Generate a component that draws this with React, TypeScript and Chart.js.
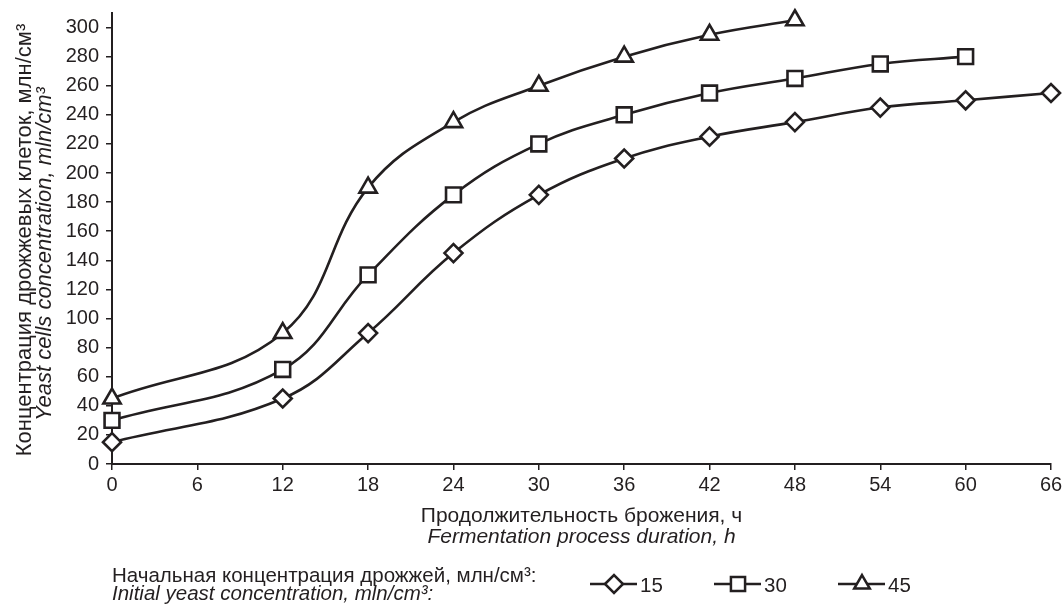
import React, { useEffect, useRef } from "react";
import { Chart, registerables } from "chart.js";

Chart.register(...registerables);

const HOURS = [0, 12, 18, 24, 30, 36, 42, 48, 54, 60, 66];
const SERIES_15 = [15, 45, 90, 145, 185, 210, 225, 235, 245, 250, 255];
const SERIES_30 = [30, 65, 130, 185, 220, 240, 255, 265, 275, 280];
const SERIES_45 = [45, 90, 190, 235, 260, 280, 295, 305];
const SERIES_LABELS = ["15", "30", "45"];
const POINT_STYLES = ["rectRot", "rect", "triangle"];
const X_TICKS = [0, 6, 12, 18, 24, 30, 36, 42, 48, 54, 60, 66];
const Y_TICKS = [0, 20, 40, 60, 80, 100, 120, 140, 160, 180, 200, 220, 240, 260, 280, 300];

const Y_TITLE_RU = "Концентрация дрожжевых клеток, млн/см³";
const Y_TITLE_EN = "Yeast cells concentration, mln/cm³";
const X_TITLE_RU = "Продолжительность брожения, ч";
const X_TITLE_EN = "Fermentation process duration, h";
const LEGEND_RU = "Начальная концентрация дрожжей, млн/см³:";
const LEGEND_EN = "Initial yeast concentration, mln/cm³:";

const INK = "#231f20";
const FONT = '"Liberation Sans", Arial, sans-serif';

function pts(values: number[]) {
  return values.map((v, i) => ({ x: HOURS[i], y: v }));
}

function drawMarker(ctx: CanvasRenderingContext2D, style: string, x: number, y: number, r: number) {
  ctx.beginPath();
  if (style === "rectRot") {
    ctx.moveTo(x - r, y);
    ctx.lineTo(x, y - r);
    ctx.lineTo(x + r, y);
    ctx.lineTo(x, y + r);
    ctx.closePath();
  } else if (style === "rect") {
    const s = Math.SQRT1_2 * r;
    ctx.rect(x - s, y - s, 2 * s, 2 * s);
  } else {
    const h = r;
    ctx.moveTo(x, y - h);
    ctx.lineTo(x + Math.sin(Math.PI * 2 / 3) * h, y - Math.cos(Math.PI * 2 / 3) * h);
    ctx.lineTo(x + Math.sin(Math.PI * 4 / 3) * h, y - Math.cos(Math.PI * 4 / 3) * h);
    ctx.closePath();
  }
  ctx.fillStyle = "#ffffff";
  ctx.fill();
  ctx.stroke();
}

const textPlugin = {
  id: "customText",
  afterDraw(chart: any) {
    const ctx: CanvasRenderingContext2D = chart.ctx;
    const area = chart.chartArea;
    const midX = (area.left + area.right) / 2;
    ctx.save();
    ctx.fillStyle = INK;
    ctx.textBaseline = "alphabetic";

    // Y axis title
    ctx.save();
    ctx.translate(31, 240);
    ctx.rotate(-Math.PI / 2);
    ctx.textAlign = "center";
    ctx.font = `22px ${FONT}`;
    ctx.fillText(Y_TITLE_RU, 0, 0);
    ctx.font = `italic 22px ${FONT}`;
    ctx.fillText(Y_TITLE_EN, -14, 20);
    ctx.restore();

    // X axis title
    ctx.textAlign = "center";
    ctx.font = `21px ${FONT}`;
    ctx.fillText(X_TITLE_RU, midX, 522);
    ctx.font = `italic 21px ${FONT}`;
    ctx.fillText(X_TITLE_EN, midX, 543);

    // Legend caption
    ctx.textAlign = "left";
    ctx.font = `20.5px ${FONT}`;
    ctx.fillText(LEGEND_RU, 112, 582);
    ctx.font = `italic 20.5px ${FONT}`;
    ctx.fillText(LEGEND_EN, 112, 600);

    // Legend items
    ctx.strokeStyle = INK;
    ctx.lineWidth = 2.5;
    SERIES_LABELS.forEach((label, i) => {
      const cx = 614 + i * 124;
      const cy = 584;
      ctx.beginPath();
      ctx.moveTo(cx - 24, cy);
      ctx.lineTo(cx + 23, cy);
      ctx.stroke();
      drawMarker(ctx, POINT_STYLES[i], cx, cy, POINT_STYLES[i] === "rect" ? 10 : 9);
      ctx.fillStyle = INK;
      ctx.font = `20.5px ${FONT}`;
      ctx.textAlign = "left";
      ctx.fillText(label, cx + 26, 592);
    });
    ctx.restore();
  },
};

export default function App() {
  const canvasRef = useRef<HTMLCanvasElement | null>(null);

  useEffect(() => {
    document.body.style.margin = "0";
    const canvas = canvasRef.current;
    if (!canvas) return;
    const mk = (label: string, data: number[], style: string, radius: number) => ({
      label,
      data: pts(data),
      borderColor: INK,
      backgroundColor: "#ffffff",
      borderWidth: 2.6,
      tension: 0.4,
      pointStyle: style,
      pointRadius: radius,
      pointBorderWidth: 2.6,
      pointBorderColor: INK,
      pointBackgroundColor: "#ffffff",
      clip: false,
    });
    const chart = new Chart(canvas, {
      type: "line",
      data: {
        datasets: [
          mk(SERIES_LABELS[0], SERIES_15, POINT_STYLES[0], 9),
          mk(SERIES_LABELS[1], SERIES_30, POINT_STYLES[1], 10.5),
          mk(SERIES_LABELS[2], SERIES_45, POINT_STYLES[2], 10),
        ] as any,
      },
      options: {
        animation: false,
        responsive: false,
        layout: { autoPadding: false, padding: { top: 13, right: 12, left: 0, bottom: 0 } },
        plugins: { legend: { display: false }, tooltip: { enabled: false }, title: { display: false } },
        scales: {
          x: {
            type: "linear",
            min: 0,
            max: 66,
            ticks: { color: INK, font: { family: FONT, size: 20 }, padding: 3, maxRotation: 0, autoSkip: false },
            grid: { drawOnChartArea: false, drawTicks: true, tickLength: 6, color: INK, lineWidth: 1.5 },
            border: { color: INK, width: 2 },
            afterBuildTicks: (s: any) => { s.ticks = X_TICKS.map((v) => ({ value: v })); },
            afterFit: (s: any) => { s.height = 146; s.paddingLeft = 0; s.paddingRight = 0; },
          },
          y: {
            type: "linear",
            min: 0,
            max: 310,
            ticks: { color: INK, font: { family: FONT, size: 20 }, padding: 7, autoSkip: false },
            grid: { drawOnChartArea: false, drawTicks: true, tickLength: 6, color: INK, lineWidth: 1.5 },
            border: { color: INK, width: 2 },
            afterBuildTicks: (s: any) => { s.ticks = Y_TICKS.map((v) => ({ value: v })); },
            afterFit: (s: any) => { s.width = 112; s.paddingTop = 0; s.paddingBottom = 0; },
          },
        },
      } as any,
      plugins: [textPlugin],
    });
    return () => chart.destroy();
  }, []);

  return (
    <div style={{ width: 1063, height: 610, background: "#ffffff" }}>
      <canvas ref={canvasRef} width={1063} height={610} style={{ display: "block" }} />
    </div>
  );
}
